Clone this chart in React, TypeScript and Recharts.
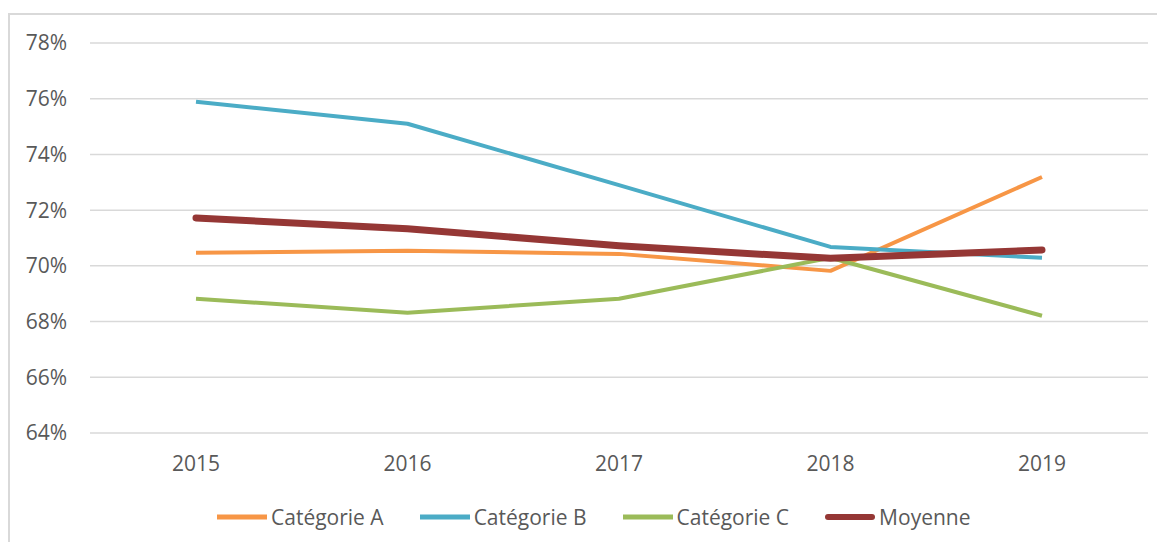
import React from "react";
import { LineChart, Line, XAxis, YAxis, CartesianGrid, Legend } from "recharts";

const years = ["2015", "2016", "2017", "2018", "2019"];
const catA = [70.47, 70.54, 70.43, 69.82, 73.19];
const catB = [75.89, 75.1, 72.9, 70.68, 70.29];
const catC = [68.82, 68.32, 68.82, 70.29, 68.21];
const moyenne = [71.72, 71.33, 70.72, 70.27, 70.57];
const yTicks = [64, 66, 68, 70, 72, 74, 76, 78];

const seriesInfo = [
  { key: "a", name: "Catégorie A", color: "#F79646", width: 4 },
  { key: "b", name: "Catégorie B", color: "#4BACC6", width: 4 },
  { key: "c", name: "Catégorie C", color: "#9BBB59", width: 4 },
  { key: "m", name: "Moyenne", color: "#953735", width: 7 },
];

const data = years.map((y, i) => ({
  year: y,
  a: catA[i],
  b: catB[i],
  c: catC[i],
  m: moyenne[i],
}));

const FONT = "'Open Sans', sans-serif";
const TEXT = "#595959";

const LegendContent = () => (
  <div style={{ display: "flex", alignItems: "center", fontFamily: FONT, fontSize: 21, color: TEXT, whiteSpace: "nowrap" }}>
    {seriesInfo.map((s, i) => (
      <div key={s.key} style={{ display: "flex", alignItems: "center", marginRight: i < seriesInfo.length - 1 ? 36 : 0 }}>
        <svg width={50} height={10} style={{ marginRight: 4 }}>
          <line x1={s.width === 7 ? 3 : 0} y1={5} x2={s.width === 7 ? 47 : 50} y2={5} stroke={s.color} strokeWidth={s.width === 7 ? 6 : 5} strokeLinecap={s.width === 7 ? "round" : "butt"} />
        </svg>
        <span>{s.name}</span>
      </div>
    ))}
  </div>
);

export default function App() {
  return (
    <div style={{ margin: -8, width: 1165, height: 550, position: "relative", overflow: "hidden", background: "#fff" }}>
      <div style={{ position: "absolute", left: 8, top: 13, width: 1300, height: 700, border: "2px solid #d9d9d9" }} />
      <div style={{ position: "absolute", left: 0, top: 0 }}>
        <LineChart width={1165} height={550} data={data} margin={{ top: 43, right: 17, bottom: 87, left: 0 }}>
          <CartesianGrid vertical={false} stroke="#d9d9d9" strokeWidth={1.5} />
          <XAxis
            dataKey="year"
            axisLine={false}
            tickLine={false}
            tickMargin={17}
            padding={{ left: 106, right: 106 }}
            tick={{ fill: TEXT, fontSize: 21, fontFamily: FONT }}
          />
          <YAxis
            width={90}
            domain={[64, 78]}
            ticks={yTicks}
            axisLine={false}
            tickLine={false}
            tickMargin={17}
            tickFormatter={(v: number) => `${v}%`}
            tick={{ fill: TEXT, fontSize: 21, fontFamily: FONT }}
          />
          {seriesInfo.map((s) => (
            <Line
              key={s.key}
              dataKey={s.key}
              name={s.name}
              stroke={s.color}
              strokeWidth={s.width}
              strokeLinecap={s.width === 7 ? "round" : "butt"}
              strokeLinejoin="round"
              dot={false}
              activeDot={false}
              isAnimationActive={false}
            />
          ))}
          <Legend
            content={<LegendContent />}
            wrapperStyle={{ position: "absolute", left: 217, top: 503, width: "auto", height: 0, overflow: "visible" }}
          />
        </LineChart>
      </div>
    </div>
  );
}
